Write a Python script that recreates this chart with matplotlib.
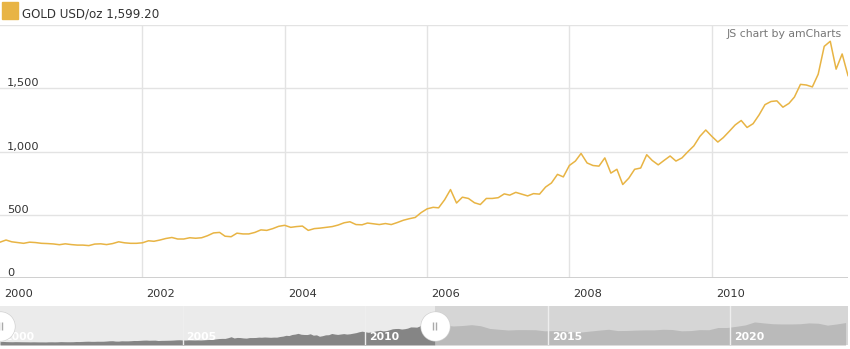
import numpy as np
import pandas as pd
import matplotlib
matplotlib.use("Agg")
import matplotlib.pyplot as plt
import matplotlib.transforms as mtransforms
from matplotlib.patches import Rectangle

# monthly gold price, USD/oz, Jan 2000 - Dec 2011 (main chart)
prices = [
    285, 302, 288, 282, 276, 285, 282, 276, 274, 271, 265, 272,          # 2000
    266, 262, 262, 258, 270, 272, 266, 274, 288, 280, 276, 276,          # 2001
    280, 296, 292, 302, 314, 322, 310, 310, 320, 316, 320, 336,          # 2002
    358, 362, 332, 328, 356, 350, 350, 362, 382, 378, 392, 410,          # 2003
    418, 402, 408, 412, 378, 392, 396, 402, 408, 420, 438, 446,          # 2004
    424, 422, 436, 430, 424, 432, 424, 440, 458, 470, 480, 518,          # 2005
    548, 560, 556, 620, 700, 594, 640, 630, 596, 582, 630, 630,          # 2006
    636, 666, 656, 678, 664, 650, 668, 664, 720, 752, 820, 800,          # 2007
    890, 925, 985, 910, 890, 885, 950, 830, 860, 740, 790, 860,          # 2008
    870, 975, 930, 895, 930, 965, 925, 950, 1000, 1045, 1120, 1170,      # 2009
    1120, 1075, 1110, 1160, 1210, 1245, 1190, 1220, 1290, 1370, 1395, 1400,  # 2010
    1350, 1380, 1430, 1530, 1525, 1510, 1610, 1830, 1870, 1650, 1770, 1599.20,  # 2011
]
dates = pd.date_range("2000-01-01", periods=len(prices), freq="MS")

# quarterly values after 2011, only shown in the scrollbar
later_prices = [
    1690, 1610, 1650, 1720,
    1630, 1400, 1330, 1270,
    1300, 1300, 1290, 1200,
    1220, 1200, 1120, 1100,
    1180, 1260, 1330, 1220,
    1230, 1260, 1280, 1280,
    1330, 1310, 1200, 1220,
    1300, 1290, 1480, 1480,
    1580, 1700, 1950, 1870,
    1800, 1780, 1780, 1800,
    1870, 1840, 1680, 1780,
    1900,
]
later_dates = pd.date_range("2012-03-01", periods=len(later_prices), freq="3MS")

y_ticks = [0, 500, 1000, 1500, 2000]
y_labels = ["0", "500", "1,000", "1,500", ""]
x_years = [2000, 2002, 2004, 2006, 2008, 2010]
scroll_years = [2000, 2005, 2010, 2015, 2020]

gold = "#e8b444"
W, H = 850, 349
fig = plt.figure(figsize=(W / 100, H / 100), dpi=100)

# ---- main chart
ax = fig.add_axes([0, (H - 278.3) / H, 848 / W, 253.5 / H])
ax.plot(dates, prices, color=gold, lw=1.1, zorder=3)
ax.set_xlim(dates[0], dates[-1])
ax.set_ylim(0, 2000)
for s in ax.spines.values():
    s.set_visible(False)
ax.set_xticks([])
ax.set_yticks([])

for v in y_ticks:
    ax.axhline(v, color="#e3e3e3", lw=1, zorder=1)
ax.axhline(0, color="#cccccc", lw=2, zorder=2)
for yr in x_years[1:]:
    ax.axvline(pd.Timestamp(f"{yr}-01-01"), color="#e3e3e3", lw=1, zorder=1)

ytr = mtransforms.blended_transform_factory(ax.transAxes, ax.transData)
ytr = mtransforms.offset_copy(ytr, fig=fig, x=7, y=2, units="dots")
for v, lab in zip(y_ticks, y_labels):
    ax.text(0, v, lab, transform=ytr, ha="left", va="baseline",
            fontsize=8.2, color="#333333")

xtr = mtransforms.blended_transform_factory(ax.transData, ax.transAxes)
xtr = mtransforms.offset_copy(xtr, fig=fig, x=4, y=-16, units="dots")
for yr in x_years:
    ax.text(pd.Timestamp(f"{yr}-01-01"), 0, str(yr), transform=xtr,
            ha="left", va="center", fontsize=8.2, color="#333333", clip_on=False)

# legend and credit
fig.patches.append(Rectangle((2 / W, (H - 18.5) / H), 16 / W, 16 / H,
                             transform=fig.transFigure, color=gold))
fig.text(22 / W, (H - 17.5) / H, f"GOLD USD/oz {prices[-1]:,.2f}",
         ha="left", va="baseline", fontsize=8.6, color="#333333")
fig.text(842 / W, (H - 37) / H, "JS chart by amCharts",
         ha="right", va="baseline", fontsize=7.8, color="#777777")

# ---- scrollbar
all_dates = dates.append(later_dates)
all_prices = prices + later_prices
sx = fig.add_axes([0, (H - 345) / H, 848 / W, 39 / H])
sx.set_xlim(pd.Timestamp("2000-01-01"), pd.Timestamp("2023-03-25"))
sx.set_ylim(0, 3300)
for s in sx.spines.values():
    s.set_visible(False)
sx.set_xticks([])
sx.set_yticks([])
sx.axvspan(dates[0], dates[-1], color="#ebebeb", lw=0, zorder=0)
sx.axvspan(dates[-1], pd.Timestamp("2023-03-25"), color="#d6d6d6", lw=0, zorder=0)
sel = np.arange(len(all_dates)) <= len(dates) - 1
rest = np.arange(len(all_dates)) >= len(dates) - 1
sx.fill_between(all_dates[sel], 0, np.array(all_prices)[sel], color="#858585", lw=0, zorder=1)
sx.fill_between(all_dates[rest], 0, np.array(all_prices)[rest], color="#bababa", lw=0, zorder=1)

str_ = mtransforms.offset_copy(sx.transData, fig=fig, x=4, y=0, units="dots")
for yr in scroll_years:
    d = pd.Timestamp(f"{yr}-01-01")
    if yr > 2000:
        sx.axvline(d, color="#eeeeee", lw=1, zorder=2)
    sx.text(d, 700, str(yr), transform=str_, ha="left", va="center",
            fontsize=7.8, fontweight="bold", color="white", zorder=3)

# selection handles with grip marks
for d in [dates[0], dates[-1]]:
    sx.scatter([d], [1650], s=470, color="#d0d0d0", zorder=4, clip_on=False, lw=0)
    sx.scatter([d], [1650], s=430, color="white", zorder=5, clip_on=False, lw=0)
    for dx in (-1.5, 1.5):
        gtr = mtransforms.offset_copy(sx.transData, fig=fig, x=dx, y=0, units="dots")
        sx.scatter([d], [1650], marker="|", s=40, color="#aaaaaa", lw=1,
                   transform=gtr, zorder=6, clip_on=False)

fig.savefig("out.png", dpi=100)
